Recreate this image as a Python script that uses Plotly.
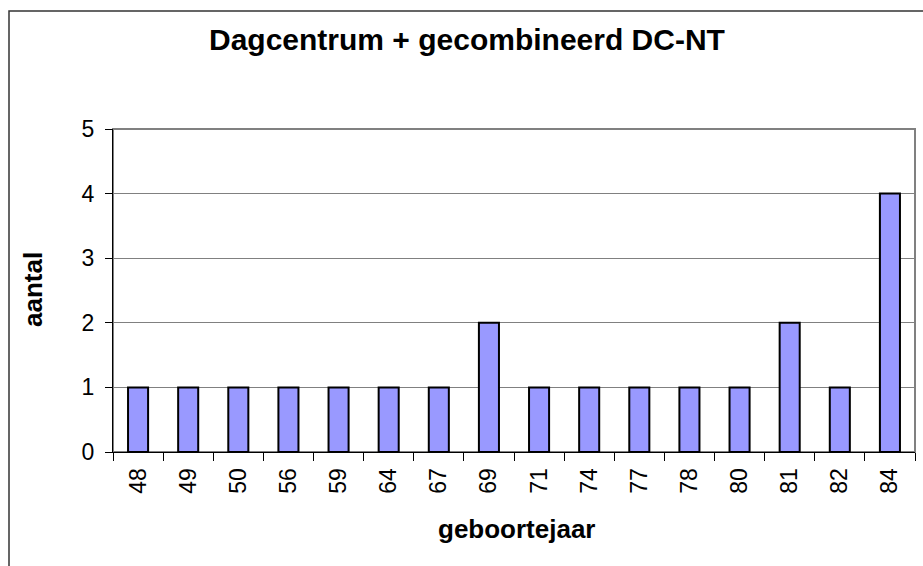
import plotly.graph_objects as go

categories = ["48", "49", "50", "56", "59", "64", "67", "69", "71", "74", "77", "78", "80", "81", "82", "84"]
values = [1, 1, 1, 1, 1, 1, 1, 2, 1, 1, 1, 1, 1, 2, 1, 4]
y_ticks = [0, 1, 2, 3, 4, 5]

W, H = 923, 566
L, R, T, B = 113, 8, 129, 114
pw, ph = W - L - R, H - T - B

font = "Liberation Sans, Arial, sans-serif"

fig = go.Figure(go.Bar(
    x=categories, y=values,
    marker=dict(color="#9999FF", line=dict(color="black", width=2)),
    width=0.4,
))

def px_x(x):
    return (x - L) / pw

def px_y(y):
    return (H - B - y) / ph

fig.update_layout(
    width=W, height=H,
    margin=dict(l=L, r=R, t=T, b=B),
    paper_bgcolor="white", plot_bgcolor="white",
    showlegend=False,
    font=dict(family=font, color="black", size=23),
    xaxis=dict(
        type="category", tickson="boundaries", ticks="outside", ticklen=8,
        tickcolor="black", tickwidth=1, showline=True, linecolor="black", linewidth=1,
        tickangle=-90, showgrid=False, tickfont=dict(size=23), zeroline=False,
        ticklabelstandoff=6,
    ),
    yaxis=dict(
        range=[0, 5], tickvals=y_ticks, ticks="outside", ticklen=7, tickcolor="black",
        showline=True, linecolor="black", linewidth=1, showgrid=True,
        gridcolor="#808080", gridwidth=1, zeroline=False, tickfont=dict(size=23),
        ticklabelstandoff=6,
    ),
    shapes=[
        dict(type="rect", xref="paper", yref="paper", x0=0, x1=1, y0=0, y1=1,
             line=dict(color="#808080", width=2), layer="below"),
        dict(type="rect", xref="paper", yref="paper",
             x0=px_x(9), x1=px_x(940), y0=px_y(600), y1=px_y(11),
             line=dict(color="#333333", width=1.5), layer="below"),
    ],
    annotations=[
        dict(text="<b>Dagcentrum + gecombineerd DC-NT</b>", xref="paper", yref="paper",
             x=px_x(467), y=px_y(40), showarrow=False, font=dict(size=30),
             xanchor="center", yanchor="middle"),
        dict(text="<b>aantal</b>", xref="paper", yref="paper",
             x=px_x(33), y=px_y(290), showarrow=False, font=dict(size=26),
             textangle=-90, xanchor="center", yanchor="middle"),
        dict(text="<b>geboortejaar</b>", xref="paper", yref="paper",
             x=px_x(517), y=px_y(529), showarrow=False, font=dict(size=26),
             xanchor="center", yanchor="middle"),
    ],
)

fig.write_html(
    "out.html",
    config={"displayModeBar": False},
    post_script="document.body.style.margin='0';document.body.style.overflow='hidden';",
)
